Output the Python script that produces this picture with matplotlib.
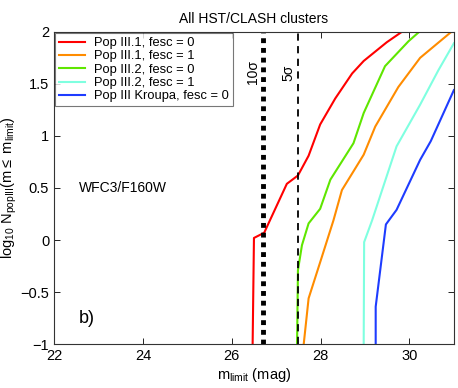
import numpy as np
import matplotlib
matplotlib.use('Agg')
import matplotlib.pyplot as plt
from matplotlib.ticker import FuncFormatter

plt.rcParams['font.family'] = ['Liberation Sans', 'DejaVu Sans']
plt.rcParams['mathtext.fontset'] = 'custom'
plt.rcParams['mathtext.rm'] = 'Liberation Sans'
plt.rcParams['mathtext.it'] = 'Liberation Sans'

# curves: (m_limit, log10 N)
red_m = [26.47, 26.50, 26.73, 27.24, 27.49, 27.73, 27.99, 28.33, 28.71, 28.97, 29.23, 29.49, 29.83]
red_n = [-1.0, 0.02, 0.07, 0.54, 0.62, 0.81, 1.11, 1.36, 1.60, 1.72, 1.81, 1.90, 2.0]

orange_m = [27.62, 27.73, 28.00, 28.29, 28.48, 28.74, 28.97, 29.23, 29.75, 30.24, 30.69, 31.0]
orange_n = [-1.0, -0.56, -0.20, 0.19, 0.48, 0.66, 0.82, 1.09, 1.47, 1.75, 1.91, 2.02]

green_m = [27.47, 27.49, 27.58, 27.73, 27.99, 28.22, 28.74, 28.97, 29.45, 29.98, 30.22]
green_n = [-1.0, -0.29, -0.05, 0.16, 0.30, 0.58, 0.93, 1.22, 1.67, 1.91, 2.0]

cyan_m = [28.97, 28.98, 29.16, 29.71, 30.24, 30.65, 31.0]
cyan_n = [-1.0, -0.02, 0.19, 0.90, 1.30, 1.63, 1.89]

blue_m = [29.24, 29.24, 29.47, 29.71, 30.24, 30.48, 31.0]
blue_n = [-1.0, -0.64, 0.15, 0.29, 0.77, 0.95, 1.44]

labels = ['Pop III.1, fesc = 0', 'Pop III.1, fesc = 1', 'Pop III.2, fesc = 0',
          'Pop III.2, fesc = 1', 'Pop III Kroupa, fesc = 0']
colors = ['#ff0000', '#ff8c00', '#5fe600', '#7fffe0', '#1e3cff']

sigma10 = 26.70
sigma5 = 27.50

fig = plt.figure(figsize=(4.58, 3.88), dpi=100)
ax = fig.add_axes([0.118, 0.113, 0.873, 0.805])

curves = [(red_m, red_n), (orange_m, orange_n), (green_m, green_n),
          (cyan_m, cyan_n), (blue_m, blue_n)]
for (m, n), c, lab in zip(curves, colors, labels):
    ax.plot(m, n, color=c, lw=1.5, label=lab, clip_on=True)

ax.axvline(sigma10, color='black', lw=3.5, ls=(0, (1, 1)))
ax.axvline(sigma5, color='black', lw=1.3, ls=(0, (4, 3)))

ax.text(26.47, 1.61, '10σ', rotation=90, ha='center', va='center', fontsize=10)
ax.text(27.28, 1.61, '5σ', rotation=90, ha='center', va='center', fontsize=10)
ax.text(22.55, 0.5, 'WFC3/F160W', ha='left', va='center', fontsize=10)
ax.text(22.55, -0.75, 'b)', ha='left', va='center', fontsize=13)

ax.set_xlim(22, 31)
ax.set_ylim(-1, 2)
ax.set_xticks([22, 24, 26, 28, 30])
ax.set_yticks([-1, -0.5, 0, 0.5, 1, 1.5, 2])
fmt = FuncFormatter(lambda v, p: ('%g' % v).replace('-', '\u2212'))
ax.xaxis.set_major_formatter(fmt)
ax.yaxis.set_major_formatter(fmt)
ax.tick_params(direction='in', top=True, right=True, labelsize=10.5, length=4, width=0.6)
for s in ax.spines.values():
    s.set_linewidth(0.8)
    s.set_color('#333333')

ax.set_xlabel(r'm$_{\rm limit}$ (mag)', fontsize=10.5, labelpad=2)
ax.set_ylabel(r'log$_{10}$ N$_{\rm popIII}$(m$\leq$ m$_{\rm limit}$)', fontsize=10.5, labelpad=1)
ax.set_title('All HST/CLASH clusters', fontsize=10, pad=6)

leg = ax.legend(loc='upper left', fontsize=9.3, frameon=True, fancybox=False,
                borderaxespad=0.1, handlelength=2.0, handletextpad=0.7,
                labelspacing=0.1, borderpad=0.3)
leg.get_frame().set_edgecolor('#555555')
leg.get_frame().set_linewidth(0.8)

fig.savefig('out.png', dpi=100)
